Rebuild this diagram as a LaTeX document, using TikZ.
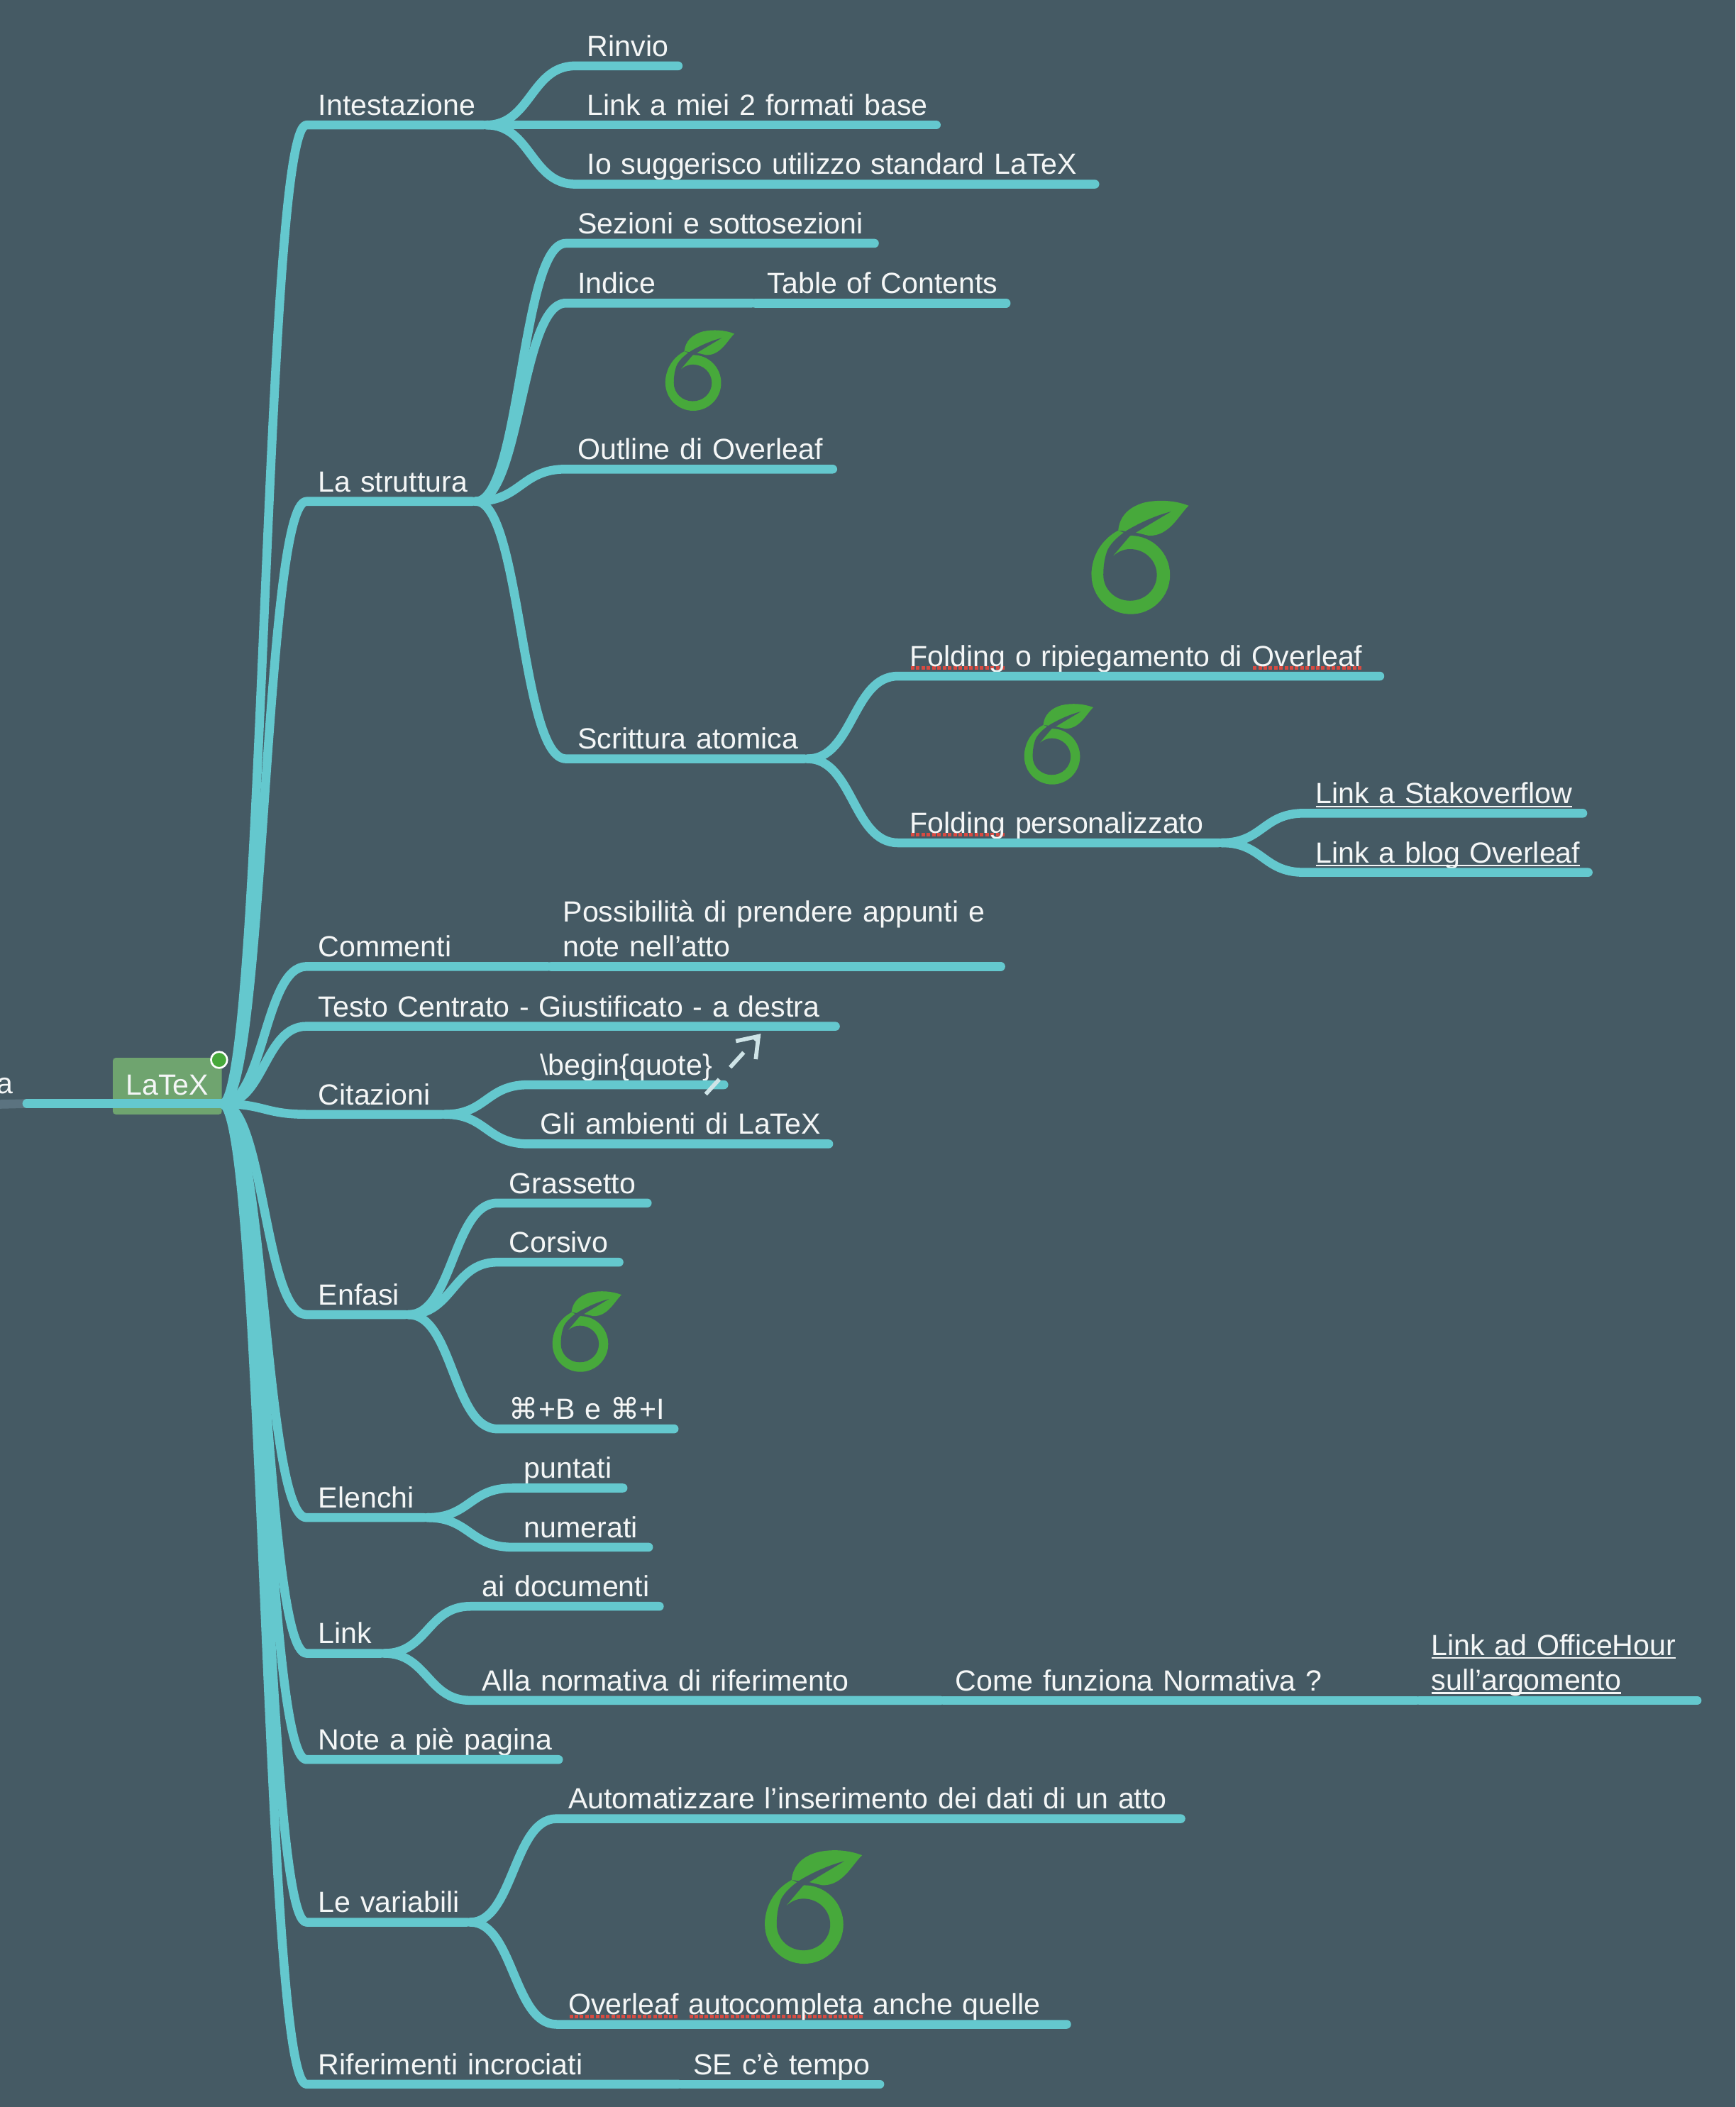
\documentclass[tikz,border=0pt]{standalone}
\usepackage{fontspec}
\setmainfont{Liberation Sans}
\newfontfamily\keyfont{DejaVu Sans}
\usepackage{xcolor}
\usetikzlibrary{arrows.meta,calc}

\definecolor{mapbg}{HTML}{455A64}
\definecolor{mapline}{HTML}{64C8CE}
\definecolor{maptext}{HTML}{F4F6F6}
\definecolor{rootbox}{HTML}{6FA46F}
\definecolor{leafgreen}{HTML}{47A93B}
\definecolor{spellred}{HTML}{D84B42}
\definecolor{stubgrey}{HTML}{5B7380}
\definecolor{crossline}{HTML}{CFE4E7}

\def\un{0.04cm}
\newcommand{\linktext}[1]{\leavevmode\setbox0\hbox{#1}\rlap{\raisebox{-3pt}{\rule{\wd0}{1.3pt}}}#1}
\newcommand{\spell}[1]{\leavevmode\setbox0\hbox{#1}\rlap{\raisebox{-3pt}{\hbox to\wd0{\xleaders\hbox to 4.3pt{\hss\textcolor{spellred}{\rule{3pt}{3pt}}\hss}\hfil}}}#1}

\tikzset{
    topic/.style={anchor=south west, inner xsep=0pt, inner ysep=7.2*\un, outer sep=0pt,
        text width=#1*\un, align=left, text depth=0pt, text=maptext,
        font=\fontsize{24.7}{29.6}\selectfont,
        execute at begin node={\leftskip=0.355cm\relax}},
    branch/.style={draw=mapline, line width=6.6*\un, line cap=round, line join=round},
    overleaf/.pic={
        \fill[leafgreen] (29.2,54.7) circle [radius=29.2];
        \fill[leafgreen] (0,54.7) .. controls (0,40) and (8,28) .. (19.9,21.6) -- (40,30) -- (29,54.7) -- cycle;
        \fill[leafgreen] (19.9,21.6) .. controls (20.8,11) and (28,4) .. (39.2,0.9)
            .. controls (50,-1.5) and (62,-0.8) .. (72.3,3.2)
            .. controls (65,10) and (58,26) .. (42.7,25.5) -- (33,23.2) -- cycle;
        \fill[mapbg] (59.1,7.6) -- (33,23.2) -- (28.3,26) -- (14.6,42.2)
            .. controls (19,37.5) and (24,35.5) .. (28.7,35.5)
            .. controls (39.7,35.5) and (48.6,44) .. (48.6,54.7)
            .. controls (48.6,65.4) and (39.7,73.9) .. (28.7,73.9)
            .. controls (17.7,73.9) and (8.8,65.4) .. (8.8,54.7)
            .. controls (8.8,47) and (10,41) .. (12,36)
            .. controls (15,30) and (22,24) .. (28.7,20.2)
            .. controls (38,15) and (48,10.5) .. (59.1,7.6) -- cycle;
    }
}

\begin{document}
\begin{tikzpicture}[x=\un, y=-\un]
    \useasboundingbox[fill=mapbg] (0,0) rectangle (1291,1567.5);

    % Root and the line coming in from the left
    \node[fill=rootbox, rounded corners=2*\un, minimum width=81*\un, minimum height=42*\un,
        inner sep=0pt, text=maptext, font=\fontsize{24.7}{29.6}\selectfont] (root) at (124.5,808) {\raisebox{2.5pt}{LaTeX}\hspace{4pt}};
    \node[inner sep=0pt, minimum size=0pt] (hub) at (165,821) {};
    \node[anchor=south east, inner xsep=10*\un, inner ysep=7.2*\un, text depth=0pt, text=maptext,
        font=\fontsize{24.7}{29.6}\selectfont] (parent) at (20,821) {a};
    \coordinate (edge) at (0,821.5);
    \draw[stubgrey, line width=6.6*\un] (edge) -- (parent.south east);
    \draw[branch] (parent.south east) -- (hub);

    % First level
    \node[topic=134] (intest) at (228,93) {Intestazione};
    \node[topic=126] (strutt) at (228,373) {La struttura};
    \node[topic=182] (comm) at (228,719) {Commenti};
    \node[topic=396] (testo) at (228,763.5) {Testo Centrato - Giustificato - a destra};
    \node[topic=103] (citaz) at (228,829) {Citazioni};
    \node[topic=76] (enfasi) at (228,978) {Enfasi};
    \node[topic=90] (elenchi) at (228,1129) {Elenchi};
    \node[topic=58] (link) at (228,1230) {Link};
    \node[topic=190] (note) at (228,1309) {Note a piè pagina};
    \node[topic=122] (variab) at (228,1430) {Le variabili};
    \node[topic=279] (rifer) at (228,1550.5) {Riferimenti incrociati};

    % Intestazione
    \node[topic=79] (rinvio) at (428,49) {Rinvio};
    \node[topic=271] (formati) at (428,93) {Link a miei 2 formati base};
    \node[topic=389] (suggest) at (428,137) {Io suggerisco utilizzo standard LaTeX};

    % La struttura
    \node[topic=232] (sezioni) at (421,181) {Sezioni e sottosezioni};
    \node[topic=141] (indice) at (421,225.5) {Indice};
    \node[topic=189] (toc) at (562,225.5) {Table of Contents};
    \node[topic=201] (outline) at (421,349) {Outline di Overleaf};
    \node[topic=180] (atomica) at (421,564.5) {Scrittura atomica};
    \node[topic=361] (foldA) at (668,503) {\spell{Folding} o ripiegamento di \spell{Overleaf}};
    \node[topic=241] (foldB) at (668,627) {\spell{Folding} personalizzato};
    \node[topic=210] (stack) at (970,605) {\linktext{Link a Stakoverflow}};
    \node[topic=214] (blog) at (970,649) {\linktext{Link a blog Overleaf}};

    % Commenti, Citazioni
    \node[topic=337, text depth={}] (appunti) at (410,719) {Possibilità di prendere appunti e\\note nell’atto};
    \node[topic=148] (quote) at (393,807) {\textbackslash begin\{quote\}};
    \node[topic=226] (ambienti) at (393,851) {Gli ambienti di LaTeX};

    % Enfasi, Elenchi
    \node[topic=114] (grass) at (370,895) {Grassetto};
    \node[topic=93] (corsivo) at (370,939) {Corsivo};
    \node[topic=134] (tasti) at (370,1063) {{\keyfont ⌘}+B e {\keyfont ⌘}+I};
    \node[topic=85] (puntati) at (381,1107) {puntati};
    \node[topic=104] (numerati) at (381,1151) {numerati};

    % Link
    \node[topic=143] (docum) at (350,1195) {ai documenti};
    \node[topic=352] (normat) at (350,1265) {Alla normativa di riferimento};
    \node[topic=354] (funziona) at (702,1265) {Come funziona Normativa ?};
    \node[topic=209, text depth={}, inner ysep=3*\un] (office) at (1056,1265) {\linktext{Link ad OfficeHour}\\\linktext{sull’argomento}};

    % Le variabili, Riferimenti
    \node[topic=467] (autom) at (414,1353) {Automatizzare l’inserimento dei dati di un atto};
    \node[topic=382] (autoc) at (414,1506) {\spell{Overleaf} \spell{autocompleta} anche quelle};
    \node[topic=150] (tempo) at (507,1550.5) {SE c’è tempo};

    % Connectors
    \foreach \a/\b in {hub/intest, hub/strutt, hub/comm, hub/testo, hub/citaz, hub/enfasi,
        hub/elenchi, hub/link, hub/note, hub/variab, hub/rifer,
        intest/rinvio, intest/formati, intest/suggest,
        strutt/sezioni, strutt/indice, strutt/outline, strutt/atomica,
        atomica/foldA, atomica/foldB, foldB/stack, foldB/blog, indice/toc,
        comm/appunti, citaz/quote, citaz/ambienti,
        enfasi/grass, enfasi/corsivo, enfasi/tasti,
        elenchi/puntati, elenchi/numerati,
        link/docum, link/normat, normat/funziona, funziona/office,
        variab/autom, variab/autoc, rifer/tempo} {
        \coordinate (m) at ($(\a.south east)!0.5!(\b.south west)$);
        \draw[branch] (\a.south east) .. controls (m |- \a.south east) and (m |- \b.south west)
            .. (\b.south west) -- ($(\b.south east)+(-2.5,0)$);
    }

    % Dashed link between two topics
    \coordinate (crossA) at (525,814);
    \coordinate (crossB) at (566,769);
    \draw[crossline, line width=3*\un, dash pattern=on 15*\un off 12*\un,
        -{Straight Barb[length=14*\un, width=20*\un]}] (crossA) -- (crossB);

    % Note flag on the root
    \node[circle, fill=leafgreen, draw=white, line width=1.4*\un, minimum size=12*\un, inner sep=0pt]
        (flag) at (163,788.5) {};

    % Overleaf logos
    \pic at (812,373) {overleaf};
    \pic at (569,1377) {overleaf};
    \pic[scale=0.71] at (495,246) {overleaf};
    \pic[scale=0.71] at (762,524) {overleaf};
    \pic[scale=0.71] at (411,961) {overleaf};
\end{tikzpicture}
\end{document}
